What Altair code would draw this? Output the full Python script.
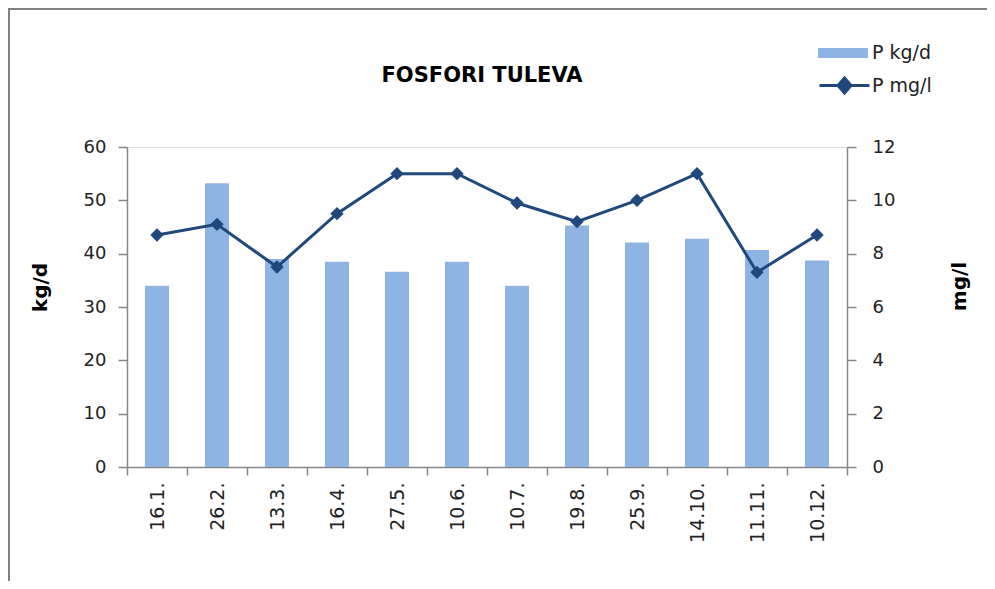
import altair as alt
import pandas as pd

dates = ["16.1.", "26.2.", "13.3.", "16.4.", "27.5.", "10.6.", "10.7.", "19.8.", "25.9.", "14.10.", "11.11.", "10.12."]
p_kg = [34.0, 53.2, 39.0, 38.5, 36.6, 38.5, 34.0, 45.3, 42.1, 42.8, 40.7, 38.7]
p_mg = [8.7, 9.1, 7.5, 9.5, 11.0, 11.0, 9.9, 9.2, 10.0, 11.0, 7.3, 8.7]
title_text = "FOSFORI TULEVA"

df = pd.DataFrame({"date": dates, "kg": p_kg, "mg": p_mg})

BAR = "#8EB4E3"
LINE = "#1F497D"
AX = "#868686"
TXT = "#222222"
FONT = "DejaVu Sans"

x_enc = alt.X(
    "date:N", sort=dates, title=None,
    scale=alt.Scale(paddingInner=0, paddingOuter=0),
    axis=alt.Axis(labelAngle=270, labelFont=FONT, labelFontSize=19, labelColor=TXT,
                  labelPadding=7, tickSize=8, tickBand="extent", domainColor=AX,
                  tickColor=AX, domainWidth=1.5, tickWidth=1.5, labelAlign="right",
                  labelBaseline="middle"),
)

base = alt.Chart(df)

bars = base.mark_bar(opacity=1, size=24).transform_calculate(s="'P kg/d'").encode(
    x=x_enc,
    y=alt.Y("kg:Q", scale=alt.Scale(domain=[0, 60]),
            axis=alt.Axis(values=[0, 10, 20, 30, 40, 50, 60], title="kg/d", titleAngle=270,
                          titleX=-87, titleY=140, titleAlign="center", titleBaseline="middle",
                          titleFont=FONT, titleFontSize=20, titleFontWeight="bold", titleColor="#000",
                          labelFont=FONT, labelFontSize=18, labelColor=TXT, labelPadding=12,
                          tickSize=9, domainColor=AX, tickColor=AX, domainWidth=1.5, tickWidth=1.5,
                          grid=False)),
    fill=alt.Fill("s:N", scale=alt.Scale(domain=["P kg/d"], range=[BAR]),
                  legend=alt.Legend(title=None, orient="none", legendX=691, legendY=-119,
                                    symbolType="M-1,-0.2H1V0.2H-1Z", symbolSize=2500,
                                    symbolStrokeWidth=0, labelFont=FONT, labelFontSize=19,
                                    labelColor=TXT, labelOffset=4, padding=0)),
)

line = base.mark_line(strokeWidth=3).transform_calculate(s2="'P mg/l'").encode(
    x=alt.X("date:N", sort=dates),
    y=alt.Y("mg:Q", scale=alt.Scale(domain=[0, 12]),
            axis=alt.Axis(values=[0, 2, 4, 6, 8, 10, 12], orient="right", title="mg/l", titleAngle=270,
                          titleX=112, titleY=139, titleAlign="center", titleBaseline="middle",
                          titleFont=FONT, titleFontSize=20, titleFontWeight="bold", titleColor="#000",
                          labelFont=FONT, labelFontSize=18, labelColor=TXT, labelPadding=16,
                          tickSize=9, domainColor=AX, tickColor=AX, domainWidth=1.5, tickWidth=1.5,
                          grid=False)),
    stroke=alt.Stroke("s2:N", scale=alt.Scale(domain=["P mg/l"], range=[LINE]),
                      legend=alt.Legend(title=None, orient="none", legendX=691, legendY=-88,
                                        symbolType="M-1,0H1M0,-0.3L0.26,0L0,0.3L-0.26,0Z",
                                        symbolSize=2500, symbolStrokeWidth=3, symbolFillColor=LINE,
                                        labelFont=FONT, labelFontSize=19, labelColor=TXT,
                                        labelOffset=1, padding=0)),
)

points = base.mark_point(shape="diamond", filled=True, size=180, color=LINE, opacity=1).encode(
    x=alt.X("date:N", sort=dates),
    y=alt.Y("mg:Q", scale=alt.Scale(domain=[0, 12]), axis=None),
)

frame_df = pd.DataFrame({"k": [0]})
left_border = alt.Chart(frame_df).mark_rule(color="#808080", strokeWidth=2).encode(
    x=alt.value(-118), y=alt.value(-139), y2=alt.value(445))
top_border = alt.Chart(frame_df).mark_rule(color="#808080", strokeWidth=2).encode(
    x=alt.value(-119), x2=alt.value(870), y=alt.value(-138))
title = alt.Chart(pd.DataFrame({"t": [title_text]})).mark_text(
    font=FONT, fontSize=21, fontWeight="bold", color="#000", align="center", baseline="alphabetic"
).encode(text="t:N", x=alt.value(355), y=alt.value(-65))

chart = alt.layer(bars, line, points, left_border, top_border, title).resolve_scale(
    y="independent"
).properties(
    width=720, height=320,
    autosize=alt.AutoSizeParams(type="none"),
    padding={"left": 119, "top": 139, "right": 140, "bottom": 114},
).configure_view(stroke=None).configure(background="white")

chart.save("out.html", embed_options={"renderer": "svg", "actions": False})
